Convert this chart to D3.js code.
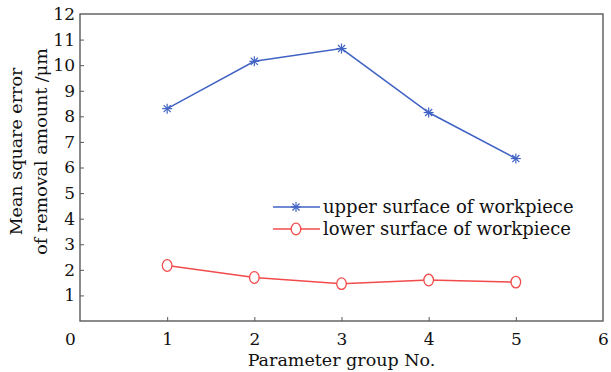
<!DOCTYPE html>
<meta charset="utf-8">
<script src="https://d3js.org/d3.v7.js"></script>
<style>
  body { margin: 0; background: #fff; }
  text { font-family: "DejaVu Serif", serif; fill: #111; }
</style>
<div id="my_dataviz"></div>
<script>

// data
var groups = [1, 2, 3, 4, 5]
var upperSurface = [8.3, 10.15, 10.65, 8.15, 6.35]
var lowerSurface = [2.17, 1.7, 1.46, 1.6, 1.52]
var xTicks = [0, 1, 2, 3, 4, 5, 6]
var yTicks = [1, 2, 3, 4, 5, 6, 7, 8, 9, 10, 11, 12]
var seriesNames = ["upper surface of workpiece", "lower surface of workpiece"]

var width = 611, height = 372,
    margin = {top: 14, right: 8, bottom: 51, left: 80},
    plotW = width - margin.left - margin.right,
    plotH = height - margin.top - margin.bottom;

var blue = "#4163c4", red = "#f24b4b", axisCol = "#5a5a5a";

var svg = d3.select("#my_dataviz").append("svg")
    .attr("width", width)
    .attr("height", height)
  .append("g")
    .attr("transform", "translate(" + margin.left + "," + margin.top + ")");

var x = d3.scaleLinear().domain([0, 6]).range([0, plotW]);
var y = d3.scaleLinear().domain([0, 12]).range([plotH, 0]);

// box
svg.append("rect")
  .attr("width", plotW).attr("height", plotH)
  .attr("fill", "none").attr("stroke", axisCol).attr("stroke-width", 1.4);

// inward ticks
var xAxis = d3.axisBottom(x).tickValues(xTicks).tickSize(-4).tickPadding(12).tickFormat(d3.format("d"));
var gx = svg.append("g").attr("transform", "translate(0," + plotH + ")").call(xAxis);
gx.select(".domain").remove();
gx.selectAll(".tick line").attr("stroke", axisCol)
  .attr("display", function(d) { return (d == 0 || d == 6) ? "none" : null; });
gx.selectAll(".tick text").style("font-size", "17px").attr("fill", "#111")
  .attr("dx", function(d) { return d == 0 ? -10 : 0; });

var yAxis = d3.axisLeft(y).tickValues(yTicks).tickSize(-4).tickPadding(5).tickFormat(d3.format("d"));
var gy = svg.append("g").call(yAxis);
gy.select(".domain").remove();
gy.selectAll(".tick line").attr("stroke", axisCol)
  .attr("display", function(d) { return d == 12 ? "none" : null; });
gy.selectAll(".tick text").style("font-size", "17px").attr("fill", "#111");

// axis titles
svg.append("text")
  .attr("x", plotW / 2).attr("y", plotH + 45)
  .attr("text-anchor", "middle").style("font-size", "17.5px")
  .text("Parameter group No.");

var yl = svg.append("text")
  .attr("transform", "translate(" + (-58) + "," + (plotH / 2 - 16) + ")rotate(-90)")
  .attr("text-anchor", "middle").style("font-size", "17.5px");
yl.append("tspan").attr("x", 0).attr("dy", 0).text("Mean square error");
yl.append("tspan").attr("x", 0).attr("dy", "1.42em").text("of removal amount /\u03bcm");

var line = d3.line().x(function(d, i) { return x(groups[i]); }).y(function(d) { return y(d); });

function star(g, cx, cy, r, col) {
  for (var a = 0; a < 4; a++) {
    var ang = a * Math.PI / 4;
    g.append("line")
      .attr("x1", cx - r * Math.cos(ang)).attr("y1", cy - r * Math.sin(ang))
      .attr("x2", cx + r * Math.cos(ang)).attr("y2", cy + r * Math.sin(ang))
      .attr("stroke", col).attr("stroke-width", 1.2);
  }
}

// upper surface
svg.append("path").datum(upperSurface)
  .attr("d", line).attr("fill", "none").attr("stroke", blue).attr("stroke-width", 1.5);
var starG = svg.append("g");
upperSurface.forEach(function(d, i) { star(starG, x(groups[i]), y(d), 5, blue); });

// lower surface
svg.append("path").datum(lowerSurface)
  .attr("d", line).attr("fill", "none").attr("stroke", red).attr("stroke-width", 1.5);
svg.selectAll("lower_marker")
  .data(lowerSurface)
  .enter()
  .append("ellipse")
    .attr("cx", function(d, i) { return x(groups[i]); })
    .attr("cy", function(d) { return y(d); })
    .attr("rx", 4.8).attr("ry", 5.8)
    .attr("fill", "#fff").attr("stroke", red).attr("stroke-width", 1.3);

// legend
var legX = 273 - margin.left, legY = 207 - margin.top;
var legend = svg.selectAll("legend")
  .data(seriesNames)
  .enter()
  .append("g")
    .attr("transform", function(d, i) { return "translate(" + legX + "," + (legY + i * 22) + ")"; });

legend.append("line")
  .attr("x1", 0).attr("x2", 47).attr("y1", 0).attr("y2", 0)
  .attr("stroke", function(d, i) { return i == 0 ? blue : red; }).attr("stroke-width", 1.5);
legend.each(function(d, i) {
  var g = d3.select(this);
  if (i == 0) star(g, 23, 0, 5, blue);
  else g.append("ellipse").attr("cx", 23).attr("cy", 0).attr("rx", 4.8).attr("ry", 5.8)
        .attr("fill", "#fff").attr("stroke", red).attr("stroke-width", 1.3);
});
legend.append("text")
  .attr("x", 50).attr("y", 0).attr("dy", ".35em")
  .style("font-size", "18px")
  .text(function(d) { return d; });

</script>
